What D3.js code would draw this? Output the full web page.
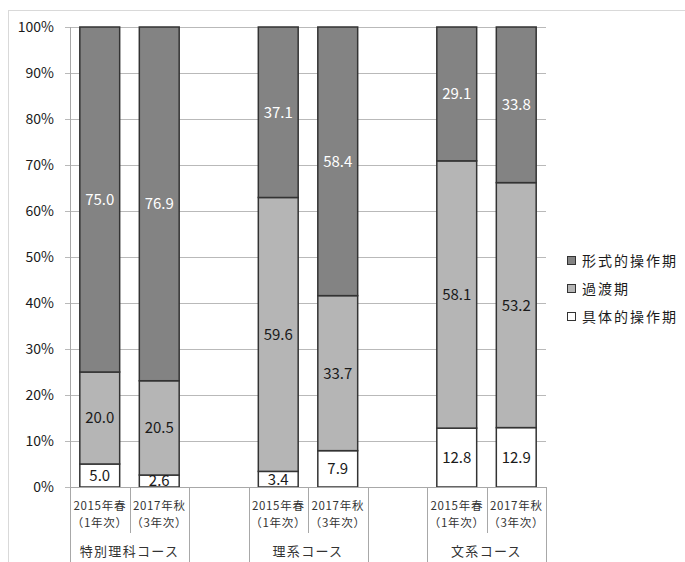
<!DOCTYPE html>
<html><head><meta charset="utf-8">
<script src="https://cdn.jsdelivr.net/npm/d3@7"></script>
<style>
html,body{margin:0;padding:0;background:#fff;}
svg{display:block;font-family:"Noto Sans CJK JP","Noto Sans",sans-serif;}
</style></head>
<body><svg id="chart" width="685" height="562"></svg>
<script>
// ---- data ----
const groups = ["特別理科コース", "理系コース", "文系コース"];
const periods = ["2015年春", "2017年秋"];
const years = ["（1年次）", "（3年次）"];
const seriesNames = ["形式的操作期", "過渡期", "具体的操作期"];
const formal = [75.0, 76.9, 37.1, 58.4, 29.1, 33.8];
const transition = [20.0, 20.5, 59.6, 33.7, 58.1, 53.2];
const concrete = [5.0, 2.6, 3.4, 7.9, 12.8, 12.9];
const yTicks = [0, 0.1, 0.2, 0.3, 0.4, 0.5, 0.6, 0.7, 0.8, 0.9, 1.0];

(function () {
const colors = {"形式的操作期": "#838383", "過渡期": "#b5b5b5", "具体的操作期": "#ffffff"};

const bars = [];
groups.forEach((g, gi) => periods.forEach((p, pi) => {
  const i = gi * periods.length + pi;
  bars.push({id: "s" + gi + "_" + pi, group: g, gi, period: p, year: years[pi],
    "形式的操作期": formal[i], "過渡期": transition[i], "具体的操作期": concrete[i]});
}));
const slots = [];
groups.forEach((g, gi) => {
  periods.forEach((p, pi) => slots.push("s" + gi + "_" + pi));
  if (gi < groups.length - 1) slots.push("gap" + gi);
});

const svg = d3.select("#chart");

svg.append("rect").attr("x", 8.5).attr("y", 10.5).attr("width", 690).attr("height", 570)
  .attr("fill", "none").attr("stroke", "#d9d9d9").attr("stroke-width", 1);

const pL = 70, pR = 546, pT = 27, pB = 487;
const x = d3.scaleBand().domain(slots).range([pL, pR]).paddingInner(0.33).paddingOuter(0.165);
const y = d3.scaleLinear().domain([0, 1]).range([pB, pT]);

svg.append("g").selectAll("line").data(yTicks).join("line")
  .attr("x1", pL - 5).attr("x2", pR)
  .attr("y1", d => Math.round(y(d)) + 0.5).attr("y2", d => Math.round(y(d)) + 0.5)
  .attr("stroke", "#b9b9b9").attr("stroke-width", 1);

svg.append("g").selectAll("text").data(yTicks).join("text")
  .attr("x", 54).attr("y", d => y(d)).attr("dy", "0.35em")
  .attr("text-anchor", "end").attr("font-size", 14).attr("fill", "#1a1a1a")
  .text(d => d3.format(".0%")(d));

svg.append("line").attr("x1", pL + 0.5).attr("x2", pL + 0.5)
  .attr("y1", pT).attr("y2", pB).attr("stroke", "#a8a8a8");

const keys = ["具体的操作期", "過渡期", "形式的操作期"];
const stack = d3.stack().keys(keys).offset(d3.stackOffsetExpand);
const stacked = stack(bars);

const gBars = svg.append("g");
stacked.forEach(layer => {
  gBars.append("g").selectAll("rect").data(layer).join("rect")
    .attr("x", d => x(d.data.id)).attr("width", x.bandwidth())
    .attr("y", d => y(d[1])).attr("height", d => y(d[0]) - y(d[1]))
    .attr("fill", colors[layer.key]).attr("stroke", "#333").attr("stroke-width", 1.5);
});

svg.append("clipPath").attr("id", "plotclip").append("rect")
  .attr("x", pL).attr("y", pT - 5).attr("width", pR - pL).attr("height", pB - pT + 5);
const gLab = svg.append("g").attr("clip-path", "url(#plotclip)");
stacked.forEach(layer => {
  gLab.append("g").selectAll("text").data(layer).join("text")
    .attr("x", d => x(d.data.id) + x.bandwidth() / 2)
    .attr("y", d => Math.min((y(d[0]) + y(d[1])) / 2, pB - 3))
    .attr("dy", "0.36em").attr("text-anchor", "middle").attr("font-size", 15)
    .attr("fill", layer.key === "形式的操作期" ? "#ffffff" : "#1a1a1a")
    .text(d => d3.format(".1f")(d.data[layer.key]));
});

svg.append("line").attr("x1", pL).attr("x2", pR).attr("y1", pB + 0.5).attr("y2", pB + 0.5)
  .attr("stroke", "#a8a8a8");
const step = x.step();
const gX = svg.append("g");
for (let i = 0; i <= slots.length; i++) {
  const prev = slots[i - 1], next = slots[i];
  const sameGroup = prev && next && prev[0] === "s" && next[0] === "s" && prev.split("_")[0] === next.split("_")[0];
  const xx = Math.round(pL + i * step) + 0.5;
  gX.append("line").attr("x1", xx).attr("x2", xx).attr("y1", pB)
    .attr("y2", sameGroup ? 533 : 562).attr("stroke", "#a8a8a8");
}
bars.forEach(b => {
  const cx = x(b.id) + x.bandwidth() / 2;
  gX.append("text").attr("x", cx).attr("y", 506).attr("dy", "0.36em").attr("text-anchor", "middle")
    .attr("font-size", 11.5).attr("letter-spacing", "0.7px").attr("fill", "#333").text(b.period);
  gX.append("text").attr("x", cx).attr("y", 523).attr("dy", "0.36em").attr("text-anchor", "middle")
    .attr("font-size", 11.5).attr("letter-spacing", "0.7px").attr("fill", "#333").text(b.year);
});
groups.forEach((g, gi) => {
  const a = x("s" + gi + "_0"), b = x("s" + gi + "_1") + x.bandwidth();
  gX.append("text").attr("x", (a + b) / 2).attr("y", 551).attr("dy", "0.36em").attr("text-anchor", "middle")
    .attr("font-size", 13).attr("letter-spacing", "1.3px").attr("fill", "#333").text(g);
});

const lg = svg.append("g").attr("transform", "translate(567,261)");
seriesNames.forEach((s, i) => {
  const row = lg.append("g").attr("transform", `translate(0,${i * 28})`);
  row.append("rect").attr("x", 0.5).attr("y", -4.5).attr("width", 8).attr("height", 8)
    .attr("fill", colors[s]).attr("stroke", "#333").attr("stroke-width", 1);
  row.append("text").attr("x", 15).attr("y", 0).attr("dy", "0.36em").attr("font-size", 14)
    .attr("letter-spacing", "2px").attr("fill", "#1a1a1a").text(s);
});
})();
</script></body></html>
